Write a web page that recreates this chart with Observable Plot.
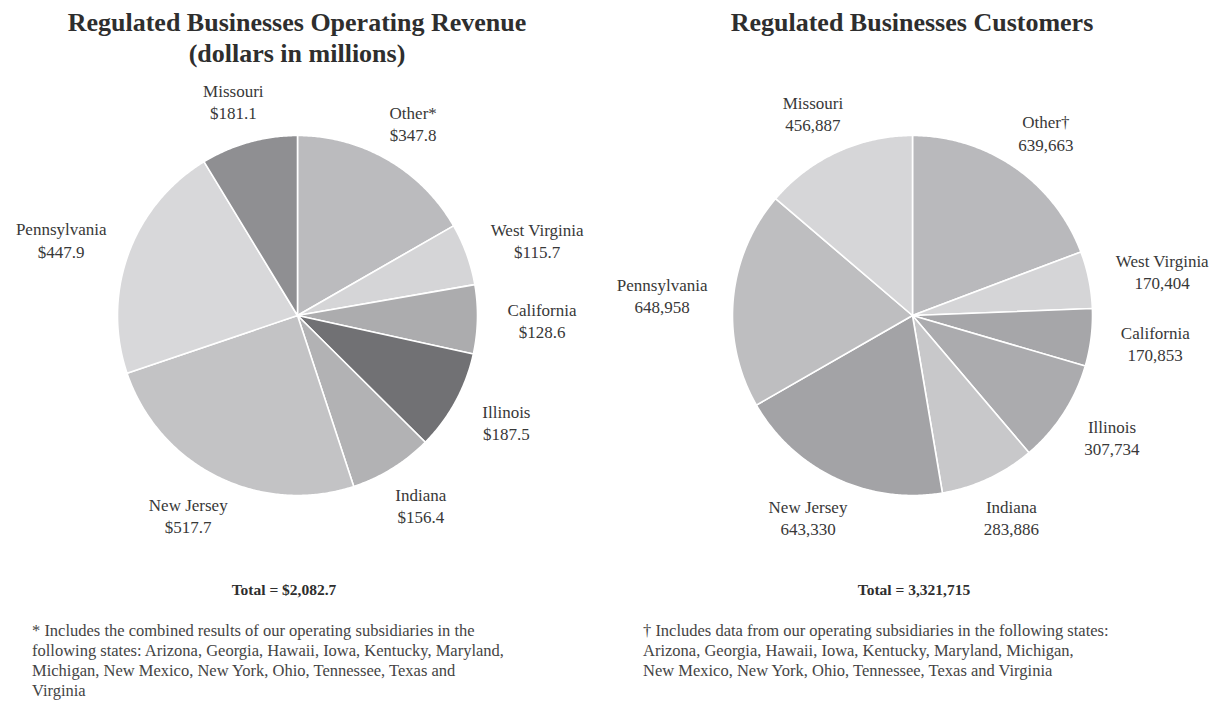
<!DOCTYPE html>
<html><head><meta charset="utf-8">
<script src="https://cdn.jsdelivr.net/npm/d3@7"></script>
<script src="https://cdn.jsdelivr.net/npm/@observablehq/plot@0.6"></script>
<style>
body{margin:0;background:#fff;}
#wrap{position:relative;width:1213px;height:701px;overflow:hidden;font-family:"Liberation Serif","Times New Roman",serif;}
.title{position:absolute;text-align:center;font-weight:bold;font-size:26px;line-height:31px;color:#2e2e2e;}
.total{position:absolute;text-align:center;font-weight:bold;font-size:15.5px;line-height:20px;color:#2e2e2e;}
.note{position:absolute;font-size:16.5px;line-height:20px;color:#444;white-space:nowrap;}
.chart{position:absolute;top:80px;}
</style></head><body>
<div id="wrap">
  <div class="title" id="t1" style="left:0;width:594px;top:7px;">Regulated Businesses Operating Revenue<br>(dollars in millions)</div>
  <div class="title" id="t2" style="left:612px;width:600px;top:7px;">Regulated Businesses Customers</div>
  <div class="chart" id="c1" style="left:0;"></div>
  <div class="chart" id="c2" style="left:606px;"></div>
  <div class="total" id="tot1" style="left:0;width:568px;top:580px;"></div>
  <div class="total" id="tot2" style="left:614px;width:600px;top:580px;"></div>
  <div class="note" id="n1" style="left:32px;top:621px;"></div>
  <div class="note" id="n2" style="left:643px;top:621px;"></div>
</div>
<script>
// ---- data ----
const states = ["Other", "West Virginia", "California", "Illinois", "Indiana", "New Jersey", "Pennsylvania", "Missouri"];
const revenueNames = ["Other*", "West Virginia", "California", "Illinois", "Indiana", "New Jersey", "Pennsylvania", "Missouri"];
const customerNames = ["Other†", "West Virginia", "California", "Illinois", "Indiana", "New Jersey", "Pennsylvania", "Missouri"];
const revenue = [347.8, 115.7, 128.6, 187.5, 156.4, 517.7, 447.9, 181.1];
const customers = [639663, 170404, 170853, 307734, 283886, 643330, 648958, 456887];
const revenueColors = ["#bbbbbe", "#d5d5d7", "#acacae", "#717174", "#b2b2b4", "#c3c3c5", "#d8d8da", "#8f8f92"];
const customerColors = ["#b9b9bc", "#d5d5d7", "#a6a6a9", "#ababae", "#c8c8ca", "#a3a3a6", "#bebec0", "#d6d6d8"];
const revenueNote = ["* Includes the combined results of our operating subsidiaries in the",
  "following states: Arizona, Georgia, Hawaii, Iowa, Kentucky, Maryland,",
  "Michigan, New Mexico, New York, Ohio, Tennessee, Texas and",
  "Virginia"];
const customerNote = ["† Includes data from our operating subsidiaries in the following states:",
  "Arizona, Georgia, Hawaii, Iowa, Kentucky, Maryland, Michigan,",
  "New Mexico, New York, Ohio, Tennessee, Texas and Virginia"];

const fmtRev = v => d3.format("$,.1f")(v);
const fmtCust = v => d3.format(",")(v);

function pieChart({values, names, colors, format, cx, width}) {
  const R = 180, H = 480, cy = 235, fs = 17, kR = 1.17;
  const arcs = d3.pie().sort(null).value(d => d)(values);
  const poly = [];
  arcs.forEach((a, i) => {
    poly.push({k: i, x: 0, y: 0, fill: colors[i]});
    const n = Math.max(2, Math.ceil((a.endAngle - a.startAngle) / (Math.PI / 360)));
    for (let j = 0; j <= n; j++) {
      const t = a.startAngle + (a.endAngle - a.startAngle) * j / n;
      poly.push({k: i, x: Math.sin(t), y: Math.cos(t), fill: colors[i]});
    }
    poly.push({k: i, x: 0, y: 0, fill: colors[i]});
  });
  const labels = arcs.map((a, i) => {
    const m = (a.startAngle + a.endAngle) / 2;
    const text = names[i] + "\n" + format(values[i]);
    const hw = d3.max(text.split("\n"), s => s.length) * 0.40 * fs / 2 / R;
    const hh = 12 / R;
    return {x: Math.sin(m) * (kR + hw), y: Math.cos(m) * (kR + hh), text};
  });
  return Plot.plot({
    width, height: H,
    margin: 0,
    x: {domain: [-cx / R, (width - cx) / R], axis: null},
    y: {domain: [-(H - cy) / R, cy / R], axis: null},
    color: {type: "identity"},
    style: {background: "transparent", overflow: "visible"},
    marks: [
      Plot.line(poly, {x: "x", y: "y", z: "k", fill: "fill", stroke: "#ffffff", strokeWidth: 1.6, strokeLinejoin: "round"}),
      Plot.text(labels, {x: "x", y: "y", text: "text", fontSize: fs, lineHeight: 1.3,
        fontFamily: "Liberation Serif", fill: "#383838", textAnchor: "middle"})
    ]
  });
}

document.getElementById("c1").append(pieChart({values: revenue, names: revenueNames, colors: revenueColors, format: fmtRev, cx: 297, width: 606}));
document.getElementById("c2").append(pieChart({values: customers, names: customerNames, colors: customerColors, format: fmtCust, cx: 306, width: 607}));
document.getElementById("tot1").textContent = "Total = " + fmtRev(d3.sum(revenue));
document.getElementById("tot2").textContent = "Total = " + fmtCust(d3.sum(customers));
document.getElementById("n1").innerHTML = revenueNote.join("<br>");
document.getElementById("n2").innerHTML = customerNote.join("<br>");
</script>
</body></html>
